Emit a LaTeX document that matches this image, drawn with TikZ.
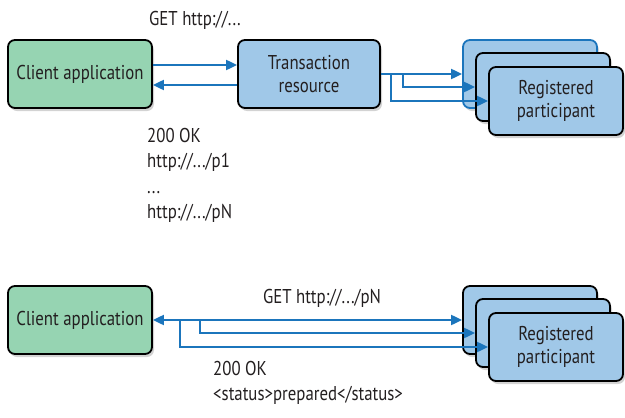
\documentclass[tikz,border=0pt]{standalone}
\usepackage{fontspec}
\setmainfont{PT Sans}[FakeStretch=0.84]
\usetikzlibrary{positioning,arrows.meta,shadows}
\definecolor{clientgreen}{RGB}{150,212,178}
\definecolor{boxblue}{RGB}{160,200,232}
\definecolor{arrowblue}{RGB}{27,117,188}
\definecolor{textgray}{RGB}{35,31,32}

\begin{document}
\begin{tikzpicture}[x=1pt,y=-1pt,>={Triangle[length=11pt,width=10pt]},
   box/.style={draw=black,line width=1.8pt,rounded corners=7pt,minimum height=68pt,
     align=center,text=textgray,font=\fontsize{20}{23}\selectfont,
     drop shadow={opacity=0.35,shadow xshift=2pt,shadow yshift=-3pt}},
   client/.style={box,fill=clientgreen,minimum width=144pt},
   resource/.style={box,fill=boxblue,minimum width=142pt},
   part/.style={box,fill=boxblue,minimum width=134pt},
   msg/.style={text=textgray,font=\fontsize{20}{25.5}\selectfont,align=left,inner sep=0pt},
   flow/.style={draw=arrowblue,line width=2pt,->}]
  \useasboundingbox (0,0) rectangle (625,418);

  % first exchange
  \node[client] (CA) at (80,74) {Client application};
  \node[resource] (TR) at (309,74) {Transaction\\resource};
  \node[part,draw=arrowblue] (P1) at (530,74) {};
  \node[part] (P2) at ([shift={(13,13)}]P1) {};
  \node[part] (P3) at ([shift={(13,14)}]P2) {Registered\\participant};
  \node[msg] (get1) at (195,20) {GET http://...};
  \node[msg,anchor=north west] (ok1) at (147,128) {200 OK\\http://.../p1\\...\\http://.../pN};
  \draw[flow] ([yshift=9pt]CA.east) -- ([yshift=9pt]TR.west);
  \draw[flow] ([yshift=-11pt]TR.west) -- ([yshift=-11pt]CA.east);
  \draw[flow] (TR.east) -- (P1.west);
  \draw[flow] ([xshift=22pt]TR.east) |- (P2.west);
  \draw[flow] ([xshift=10pt]TR.east) |- (P3.west);

  % second exchange
  \node[client] (CB) at (80,320) {Client application};
  \node[part] (Q1) at (530,320) {};
  \node[part] (Q2) at ([shift={(13,13)}]Q1) {};
  \node[part] (Q3) at ([shift={(13,14)}]Q2) {Registered\\participant};
  \node[msg] (get2) at (322,298) {GET http://.../pN};
  \node[msg,anchor=north west] (ok2) at (213,361) {200 OK\\<status>prepared</status>};
  \draw[flow,<->] (CB.east) -- (Q1.west);
  \draw[flow] ([xshift=47pt]CB.east) |- (Q2.west);
  \draw[flow] ([xshift=27pt]CB.east) |- (Q3.west);
\end{tikzpicture}
\end{document}
